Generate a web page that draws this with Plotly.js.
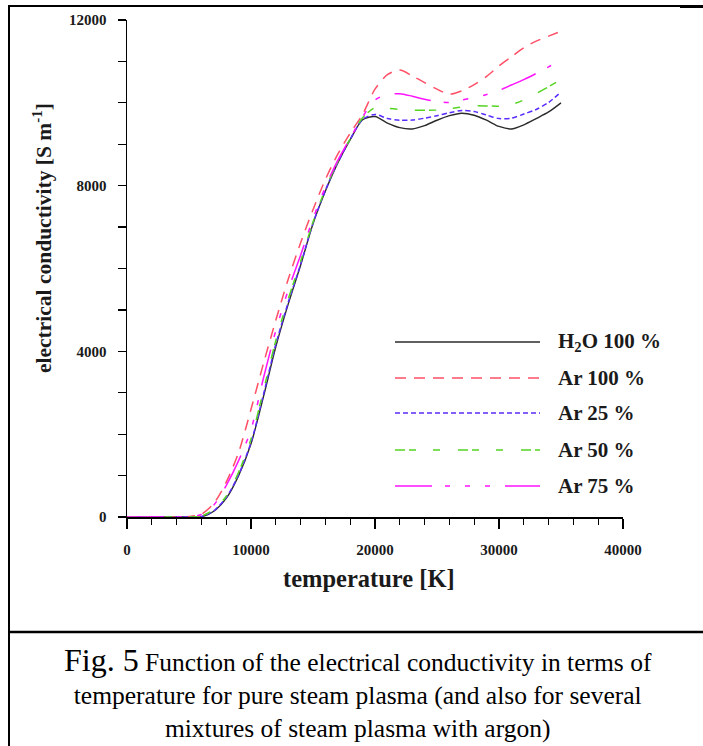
<!DOCTYPE html>
<html>
<head>
<meta charset="utf-8">
<script src="https://cdn.plot.ly/plotly-3.0.1.min.js"></script>
<style>
  html, body { margin: 0; padding: 0; background: #fff; }
  #chart { width: 703px; height: 746px; }
</style>
</head>
<body>
<div id="chart"></div>
<script>
// ---- data ----
const temperature = [0,1000,2000,3000,4000,5000,6000,7000,8000,9000,10000,11000,12000,13000,14000,15000,16000,17000,18000,19000,20000,21000,22000,23000,24000,25000,26000,27000,28000,29000,30000,31000,32000,33000,34000,35000];

const h2o100 = [0,0,0,0,0,0,5,140,450,1000,1770,2900,4110,5140,6080,7080,7870,8550,9110,9590,9670,9510,9400,9370,9450,9580,9690,9750,9700,9580,9430,9370,9470,9620,9780,10000];
const ar100  = [0,0,0,0,0,10,70,330,840,1560,2600,3700,4750,5740,6620,7420,8150,8760,9270,9720,10330,10680,10790,10650,10490,10330,10210,10290,10440,10640,10890,11110,11330,11490,11610,11730];
const ar25   = [0,0,0,0,0,0,8,150,470,1020,1800,2950,4170,5180,6100,7090,7890,8560,9120,9600,9720,9620,9580,9585,9630,9690,9760,9815,9790,9705,9620,9630,9730,9840,10010,10260];
const ar50   = [0,0,0,0,0,0,25,180,500,1080,1880,3050,4260,5260,6170,7120,7920,8580,9130,9640,9880,9870,9840,9825,9820,9825,9860,9900,9925,9925,9920,9960,10070,10225,10390,10560];
const ar75   = [0,0,0,0,0,5,60,290,760,1360,2110,3350,4500,5480,6320,7200,7970,8610,9150,9660,10070,10200,10220,10160,10085,10030,10010,10070,10130,10200,10300,10430,10560,10710,10870,11020];

const seriesNames = ["H<sub>2</sub>O 100 %", "Ar 100 %", "Ar 25 %", "Ar 50 %", "Ar 75 %"];
const seriesData  = [h2o100, ar100, ar25, ar50, ar75];

const xTickVals = [0, 10000, 20000, 30000, 40000];
const yTickVals = [0, 4000, 8000, 12000];

// ---- styles ----
const colors = ["#2b2b2b", "#ff4f66", "#5a2cff", "#55d422", "#ff14ff"];
const dashes = ["solid", "11px,8px", "5px,3px", "10px,4px,7px,17px,7px,18px", "37px,13px,5px,15px,5px,15px,5px,15px"];
const widths = [1.4, 1.5, 1.5, 1.5, 1.5];

// pixel -> paper helpers (plot area: x 127..623, y 20..517)
const L = 127, R = 623, T = 20, B = 517;
const px = v => (v - L) / (R - L);
const py = v => (B - v) / (B - T);

const traces = seriesData.map((d, i) => ({
  x: temperature, y: d, type: "scatter", mode: "lines", name: seriesNames[i],
  line: { color: colors[i], dash: dashes[i], width: widths[i], shape: "spline", smoothing: 0.8 },
  showlegend: false, hoverinfo: "skip"
}));

const serif = "Liberation Serif, Times New Roman, serif";
const shapes = [];
const annotations = [];

// manual legend
const legRows = [342, 378, 413, 450, 486];
legRows.forEach((yy, i) => {
  shapes.push({ type: "line", xref: "paper", yref: "paper", x0: px(395), x1: px(540), y0: py(yy), y1: py(yy),
    line: { color: colors[i], dash: dashes[i], width: widths[i] } });
  annotations.push({ xref: "paper", yref: "paper", x: px(556), y: py(yy), xanchor: "left", yanchor: "middle",
    text: seriesNames[i], showarrow: false, font: { family: serif, size: 21, weight: "bold", color: "#1a1a1a" } });
});

// frame lines
shapes.push({ type: "line", xref: "paper", yref: "paper", x0: px(9), x1: px(9), y0: py(5), y1: py(746), line: { color: "#000", width: 2 } });
shapes.push({ type: "line", xref: "paper", yref: "paper", x0: px(9), x1: px(703), y0: py(6), y1: py(6), line: { color: "#000", width: 2 } });
shapes.push({ type: "line", xref: "paper", yref: "paper", x0: px(680), x1: px(703), y0: py(7), y1: py(7), line: { color: "#000", width: 2 } });
shapes.push({ type: "line", xref: "paper", yref: "paper", x0: px(9), x1: px(703), y0: py(632), y1: py(632), line: { color: "#000", width: 2.5 } });

// axis titles
annotations.push({ xref: "paper", yref: "paper", x: px(42), y: py(238), textangle: -90, xanchor: "center", yanchor: "middle",
  text: "electrical conductivity [S m<sup>-1</sup>]", showarrow: false, font: { family: serif, size: 21.5, weight: "bold", color: "#1a1a1a" } });
annotations.push({ xref: "paper", yref: "paper", x: px(369), y: py(578), xanchor: "center", yanchor: "middle",
  text: "temperature [K]", showarrow: false, font: { family: serif, size: 24.5, weight: "bold", color: "#1a1a1a" } });

// caption
annotations.push({ xref: "paper", yref: "paper", x: px(358), y: py(692), xanchor: "center", yanchor: "middle", align: "center",
  text: '<span style="font-size:32px">Fig. 5</span> Function of the electrical conductivity in terms of<br>temperature for pure steam plasma (and also for several<br>mixtures of steam plasma with argon)',
  showarrow: false, font: { family: serif, size: 25.5, color: "#000" } });

const layout = {
  width: 703, height: 746,
  margin: { l: L, r: 703 - R, t: T, b: 746 - B, pad: 0 },
  paper_bgcolor: "#fff", plot_bgcolor: "#fff",
  showlegend: false,
  xaxis: {
    range: [0, 40000], tickmode: "array", tickvals: xTickVals, ticktext: xTickVals.map(String),
    showgrid: false, zeroline: false, showline: true, linecolor: "#000", linewidth: 1.5,
    ticks: "outside", ticklen: 10, tickwidth: 1.3, tickcolor: "#000", ticklabelstandoff: 8,
    minor: { dtick: 2000, tick0: 0, ticks: "outside", ticklen: 6, tickwidth: 1.2, tickcolor: "#000", showgrid: false },
    tickfont: { family: serif, size: 15, weight: "bold", color: "#1a1a1a" },
    layer: "below traces", fixedrange: true
  },
  yaxis: {
    range: [0, 12000], tickmode: "array", tickvals: yTickVals, ticktext: yTickVals.map(String),
    showgrid: false, zeroline: false, showline: true, linecolor: "#000", linewidth: 1.5,
    ticks: "outside", ticklen: 8, tickwidth: 1.3, tickcolor: "#000", ticklabelstandoff: 8,
    minor: { dtick: 1000, tick0: 0, ticks: "outside", ticklen: 8, tickwidth: 1.2, tickcolor: "#000", showgrid: false },
    tickfont: { family: serif, size: 15, weight: "bold", color: "#1a1a1a" },
    layer: "below traces", fixedrange: true
  },
  shapes: shapes,
  annotations: annotations
};

Plotly.newPlot("chart", traces, layout, { staticPlot: true, displayModeBar: false });
</script>
</body>
</html>
